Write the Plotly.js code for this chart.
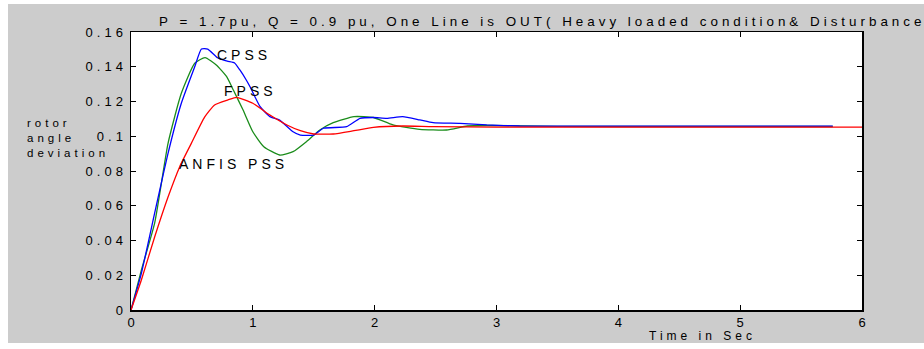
<!DOCTYPE html>
<html>
<head>
<meta charset="utf-8">
<script src="https://cdn.plot.ly/plotly-3.0.1.min.js"></script>
<style>
  html, body { margin: 0; padding: 0; background: #ffffff; }
  #chart { position: absolute; left: 8px; top: 4px; width: 916px; height: 339px; }
  #chart .main-svg text { letter-spacing: 4px; }
</style>
</head>
<body>
<div id="chart"></div>
<script>
// ---- data ----
const cpssT = [0, 0.085, 0.194, 0.304, 0.413, 0.523, 0.578, 0.63, 0.71, 0.79, 0.85, 0.895, 0.946, 0.977, 1.06, 1.14, 1.22, 1.33, 1.39, 1.50, 1.58, 1.77, 1.88, 1.99, 2.10, 2.23, 2.37, 2.48, 2.70, 2.92, 3.19, 4.0, 5.0, 5.76];
const cpssY = [0, 0.0211, 0.0557, 0.0902, 0.119, 0.140, 0.1502, 0.1502, 0.1452, 0.1432, 0.1422, 0.138, 0.1324, 0.1285, 0.117, 0.1113, 0.1093, 0.1026, 0.1007, 0.1007, 0.1046, 0.1055, 0.1103, 0.1108, 0.1103, 0.1113, 0.1094, 0.1078, 0.1074, 0.1065, 0.1059, 0.1058, 0.1058, 0.1058];

const greenT = [0, 0.085, 0.194, 0.304, 0.413, 0.523, 0.608, 0.70, 0.785, 0.84, 0.92, 1.00, 1.09, 1.22, 1.33, 1.44, 1.55, 1.66, 1.83, 1.99, 2.15, 2.37, 2.59, 2.76, 2.92, 3.5, 4.5, 5.76];
const greenY = [0, 0.023, 0.050, 0.0959, 0.1247, 0.142, 0.1453, 0.141, 0.1343, 0.1266, 0.1151, 0.1026, 0.094, 0.0892, 0.0911, 0.0969, 0.1036, 0.1078, 0.1113, 0.1108, 0.1065, 0.104, 0.1036, 0.1059, 0.1062, 0.1057, 0.1056, 0.1056];

const redT = [0, 0.085, 0.194, 0.304, 0.40, 0.495, 0.604, 0.686, 0.796, 0.867, 1.00, 1.14, 1.28, 1.39, 1.50, 1.66, 1.83, 1.99, 2.23, 2.48, 3.0, 4.0, 5.0, 6.0];
const redY = [0, 0.0173, 0.042, 0.065, 0.0825, 0.0959, 0.111, 0.118, 0.1209, 0.1224, 0.119, 0.1122, 0.1065, 0.1032, 0.1013, 0.1013, 0.1032, 0.1051, 0.1059, 0.1055, 0.1053, 0.1053, 0.1053, 0.1053];

const xTicks = [0, 1, 2, 3, 4, 5, 6];
const yTicks = [0, 0.02, 0.04, 0.06, 0.08, 0.1, 0.12, 0.14, 0.16];
const yTickText = ['0', '0.02', '0.04', '0.06', '0.08', '0.1', '0.12', '0.14', '0.16'];

const labels = ['CPSS', 'FPSS', 'ANFIS PSS'];
const labelX = [0.705, 0.76, 0.394];
const labelY = [0.1468, 0.126, 0.084];

const titleText = 'P = 1.7pu, Q = 0.9 pu, One Line is OUT( Heavy loaded condition& Disturbance';
const yLabel = 'rotor<br>angle<br>deviation';
const xLabel = 'Time in Sec';

// ---- chart ----
const fam = 'Liberation Sans, Arial, sans-serif';
const font = {family: fam, size: 13, color: '#000000'};
const lineShape = {shape: 'spline', smoothing: 0.5, width: 1.3};
const traces = [
  {x: greenT, y: greenY, mode: 'lines', line: Object.assign({color: '#1a8c1a'}, lineShape), hoverinfo: 'skip'},
  {x: cpssT, y: cpssY, mode: 'lines', line: Object.assign({color: '#0000ff'}, lineShape), hoverinfo: 'skip'},
  {x: redT, y: redY, mode: 'lines', line: Object.assign({color: '#ff0000'}, lineShape), hoverinfo: 'skip'}
];

// letter-spacing widens the labels around their centres; shift so the left edge stays put
const annotations = labels.map((t, i) => ({
  x: labelX[i], y: labelY[i], xref: 'x', yref: 'y', text: t, showarrow: false,
  xanchor: 'left', yanchor: 'middle', xshift: 2 * t.length - 2,
  font: {family: fam, size: 14, color: '#000'}
}));
annotations.push({
  xref: 'paper', yref: 'paper', x: -0.145, y: 0.62, text: yLabel, showarrow: false,
  xanchor: 'left', yanchor: 'middle', align: 'left', font: {family: fam, size: 11.5, color: '#000'}
});
annotations.push({
  xref: 'x', yref: 'paper', x: 4.69, y: -0.095, text: xLabel, showarrow: false,
  xanchor: 'center', yanchor: 'middle', font: {family: fam, size: 12, color: '#000'}
});

const layout = {
  width: 916, height: 339,
  margin: {l: 123, r: 62, t: 28, b: 33, pad: 0},
  paper_bgcolor: '#cccccc',
  plot_bgcolor: '#ffffff',
  showlegend: false,
  font: font,
  title: {
    text: titleText, xref: 'container', yref: 'container',
    x: 151 / 916, xanchor: 'left', y: 1 - 17 / 339, yanchor: 'middle',
    font: {family: fam, size: 13.4, color: '#000'}
  },
  xaxis: {
    range: [0, 6], tickvals: xTicks, ticktext: xTicks.map(String),
    ticks: 'inside', ticklen: 5, tickcolor: '#000', tickwidth: 1,
    showline: true, linecolor: '#000', linewidth: 1.5, mirror: 'ticks',
    showgrid: false, zeroline: false, tickfont: font, ticklabelshift: 2
  },
  yaxis: {
    range: [0, 0.16], tickvals: yTicks, ticktext: yTickText,
    ticks: 'inside', ticklen: 5, tickcolor: '#000', tickwidth: 1,
    showline: true, linecolor: '#000', linewidth: 1.5, mirror: 'ticks',
    showgrid: false, zeroline: false, tickfont: font
  },
  annotations: annotations
};

Plotly.newPlot('chart', traces, layout, {displayModeBar: false, staticPlot: true});
</script>
</body>
</html>
